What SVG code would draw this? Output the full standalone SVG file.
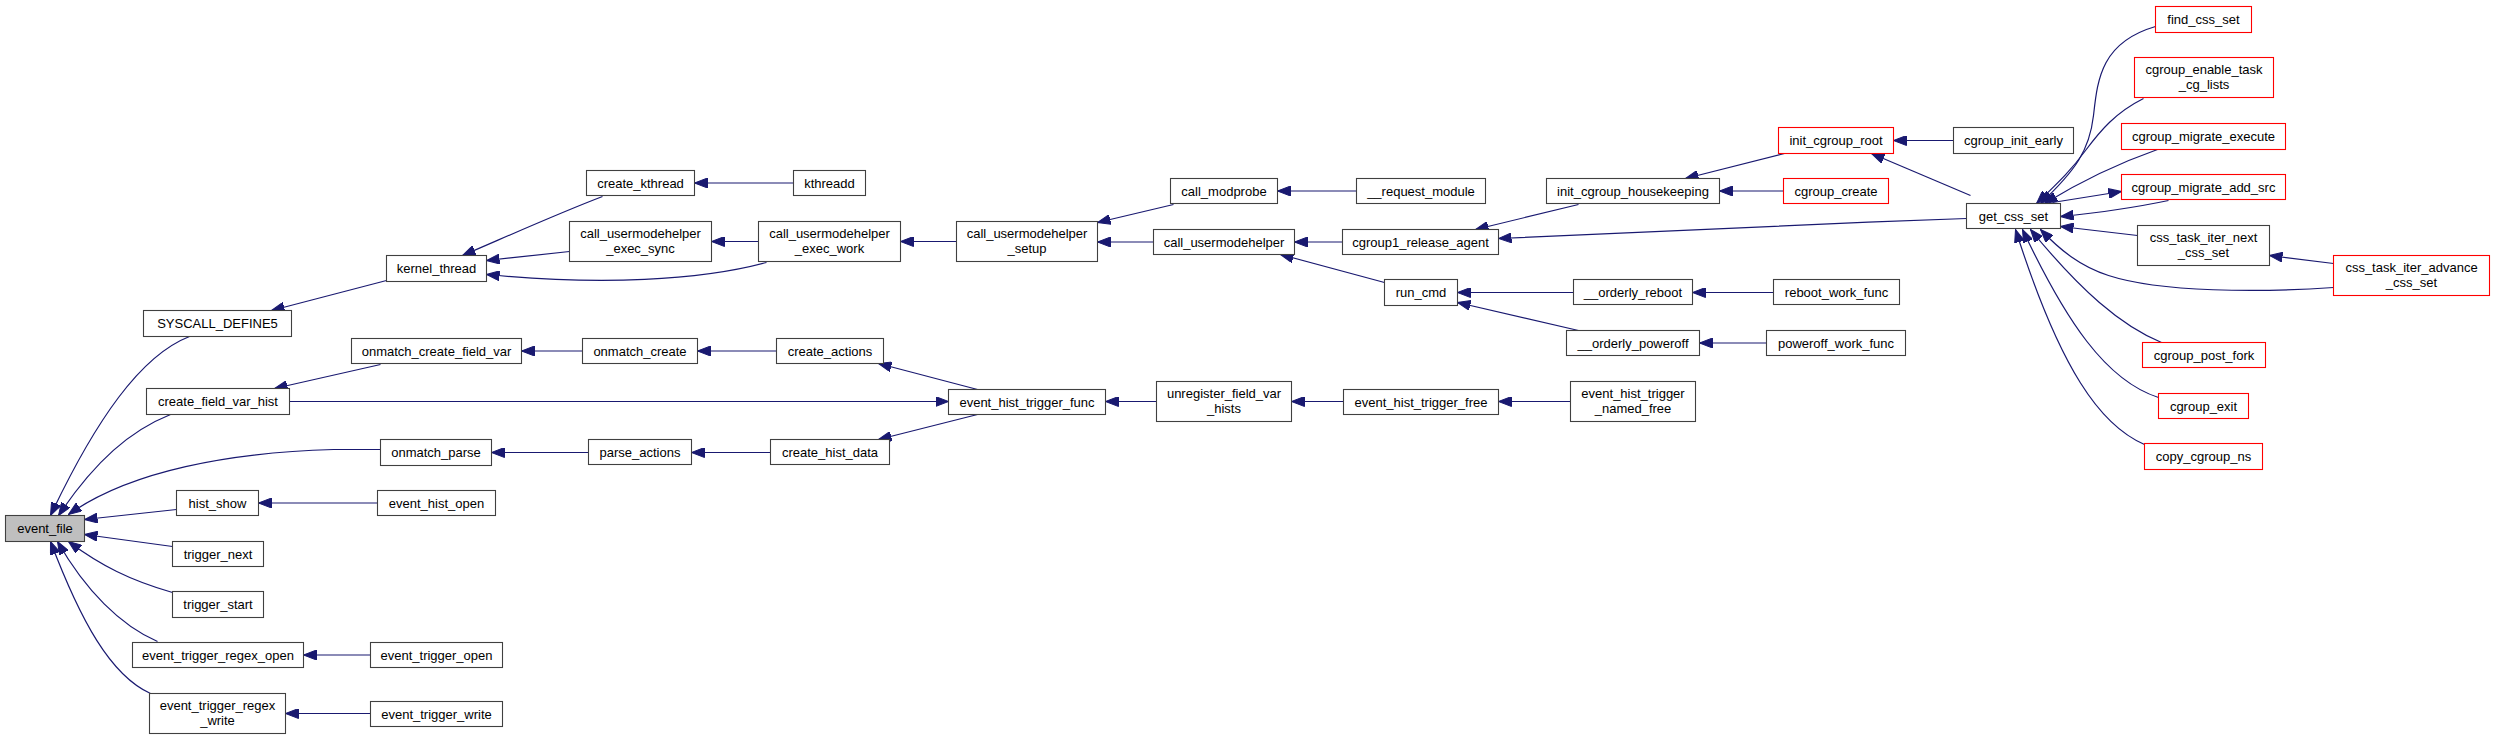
<svg xmlns="http://www.w3.org/2000/svg" width="2495" height="739" viewBox="0 0 2495 739">
<style>
.n rect{fill:#ffffff;stroke:#404040;stroke-width:1.1}
.r rect{stroke:#ff0000}
.g rect{fill:#bfbfbf}
text{font-family:"Liberation Sans",Arial,Helvetica,sans-serif;font-size:13px;text-anchor:middle;fill:#000000}
.e path{fill:none;stroke:#191970;stroke-width:1.2;marker-end:url(#a)}
</style>
<defs>
<marker id="a" viewBox="0 0 13 10" refX="13" refY="5" markerWidth="13" markerHeight="10" markerUnits="userSpaceOnUse" orient="auto">
<path d="M0,0 L13,5 L0,10 Z" fill="#191970" stroke="#191970" stroke-width="1"/>
</marker>
</defs>
<rect x="0" y="0" width="2495" height="739" fill="#ffffff"/>
<g transform="translate(0.5,0.5)">
<g id="edges" class="e">
<path d="M189,336 C140,355 95,420 50,515"/>
<path d="M170,414 C130,430 95,460 58,515"/>
<path d="M380,449 L333,449 C230,452 130,470 68,514"/>
<path d="M176,509 L84,519"/>
<path d="M172,546 L84,534"/>
<path d="M172,592 C130,580 100,565 68,541"/>
<path d="M157,641 C120,625 85,590 57,541"/>
<path d="M150,693 C110,675 80,620 50,541"/>
<path d="M377,502.5 L258,502.5"/>
<path d="M370,654.5 L303,654.5"/>
<path d="M370,713 L285,713"/>
<path d="M386,280 L271,310"/>
<path d="M380,364 L274,388"/>
<path d="M289,401 L948,401"/>
<path d="M583,350.5 L521,350.5"/>
<path d="M776,350.5 L697,350.5"/>
<path d="M588,452 L491,452"/>
<path d="M770,452 L691,452"/>
<path d="M977,389 L878,363"/>
<path d="M977,414 L878,439"/>
<path d="M602,196 C560,212 520,230 462,255"/>
<path d="M569,251 L486,260"/>
<path d="M766,262 C700,280 600,285 486,274"/>
<path d="M793,182.5 L694,182.5"/>
<path d="M758,241 L711,241"/>
<path d="M956,241 L900,241"/>
<path d="M1173,204 L1097,222"/>
<path d="M1153,241.5 L1097,241.5"/>
<path d="M1356,190.5 L1277,190.5"/>
<path d="M1342,241.5 L1294,241.5"/>
<path d="M1384,282 L1280,254"/>
<path d="M1578,204 L1475,229"/>
<path d="M1966,218 C1800,224 1620,232 1498,238"/>
<path d="M1784,153 L1685,178"/>
<path d="M1783,190.5 L1719,190.5"/>
<path d="M1953,140 L1893,140"/>
<path d="M1970,195 L1871,153"/>
<path d="M1573,292 L1457,292"/>
<path d="M1578,330 L1457,302"/>
<path d="M1773,292 L1692,292"/>
<path d="M1766,342.5 L1699,342.5"/>
<path d="M1570,401 L1498,401"/>
<path d="M1343,401 L1291,401"/>
<path d="M1156,401 L1105,401"/>
<path d="M2155,26 C2100,42 2097,80 2093,115 C2089,150 2075,170 2040,203"/>
<path d="M2143,98 C2115,112 2100,130 2085,150 C2072,168 2060,180 2036,203"/>
<path d="M2157,149 C2120,162 2085,178 2044,203"/>
<path d="M2052,202 L2121,191"/>
<path d="M2168,200 C2130,208 2100,212 2060,216"/>
<path d="M2137,235 L2060,226"/>
<path d="M2333,263 L2269,255"/>
<path d="M2333,287 C2260,292 2160,292 2108,275 C2080,266 2060,250 2040,229"/>
<path d="M2161,342 C2120,325 2080,290 2030,229"/>
<path d="M2158,397 C2105,380 2065,320 2022,229"/>
<path d="M2144,444 C2100,425 2060,370 2015,229"/>
</g>
<g id="event_file" class="n g"><rect x="5" y="515" width="79" height="26"/><text x="44.5" y="532.5">event_file</text></g>
<g id="SYSCALL_DEFINE5" class="n"><rect x="143" y="310" width="148" height="26"/><text x="217" y="327.5">SYSCALL_DEFINE5</text></g>
<g id="create_field_var_hist" class="n"><rect x="146" y="388" width="143" height="26"/><text x="217.5" y="405.5">create_field_var_hist</text></g>
<g id="onmatch_parse" class="n"><rect x="380" y="439" width="111" height="26"/><text x="435.5" y="456.5">onmatch_parse</text></g>
<g id="hist_show" class="n"><rect x="176" y="490" width="82" height="25"/><text x="217" y="507">hist_show</text></g>
<g id="event_hist_open" class="n"><rect x="377" y="490" width="118" height="25"/><text x="436" y="507">event_hist_open</text></g>
<g id="trigger_next" class="n"><rect x="172" y="541" width="91" height="25"/><text x="217.5" y="558">trigger_next</text></g>
<g id="trigger_start" class="n"><rect x="172" y="591" width="91" height="26"/><text x="217.5" y="608.5">trigger_start</text></g>
<g id="event_trigger_regex_open" class="n"><rect x="132" y="642" width="171" height="25"/><text x="217.5" y="659">event_trigger_regex_open</text></g>
<g id="event_trigger_open" class="n"><rect x="370" y="642" width="132" height="25"/><text x="436" y="659">event_trigger_open</text></g>
<g id="event_trigger_regex_write" class="n"><rect x="149" y="693" width="136" height="40"/><text x="217" y="709.5">event_trigger_regex</text><text x="217" y="724.5">_write</text></g>
<g id="event_trigger_write" class="n"><rect x="370" y="701" width="132" height="25"/><text x="436" y="718">event_trigger_write</text></g>
<g id="kernel_thread" class="n"><rect x="386" y="255" width="100" height="26"/><text x="436" y="272.5">kernel_thread</text></g>
<g id="onmatch_create_field_var" class="n"><rect x="351" y="338" width="170" height="25"/><text x="436" y="355">onmatch_create_field_var</text></g>
<g id="create_kthread" class="n"><rect x="586" y="170" width="108" height="25"/><text x="640" y="187">create_kthread</text></g>
<g id="kthreadd" class="n"><rect x="793" y="170" width="72" height="25"/><text x="829" y="187">kthreadd</text></g>
<g id="call_usermodehelper_exec_sync" class="n"><rect x="569" y="221" width="142" height="40"/><text x="640" y="237.5">call_usermodehelper</text><text x="640" y="252.5">_exec_sync</text></g>
<g id="call_usermodehelper_exec_work" class="n"><rect x="758" y="221" width="142" height="40"/><text x="829" y="237.5">call_usermodehelper</text><text x="829" y="252.5">_exec_work</text></g>
<g id="call_usermodehelper_setup" class="n"><rect x="956" y="221" width="141" height="40"/><text x="1026.5" y="237.5">call_usermodehelper</text><text x="1026.5" y="252.5">_setup</text></g>
<g id="onmatch_create" class="n"><rect x="582" y="338" width="115" height="25"/><text x="639.5" y="355">onmatch_create</text></g>
<g id="create_actions" class="n"><rect x="776" y="338" width="107" height="25"/><text x="829.5" y="355">create_actions</text></g>
<g id="event_hist_trigger_func" class="n"><rect x="948" y="389" width="157" height="25"/><text x="1026.5" y="406">event_hist_trigger_func</text></g>
<g id="parse_actions" class="n"><rect x="588" y="439" width="103" height="25"/><text x="639.5" y="456">parse_actions</text></g>
<g id="create_hist_data" class="n"><rect x="770" y="439" width="119" height="25"/><text x="829.5" y="456">create_hist_data</text></g>
<g id="call_modprobe" class="n"><rect x="1170" y="178" width="107" height="25"/><text x="1223.5" y="195">call_modprobe</text></g>
<g id="__request_module" class="n"><rect x="1356" y="178" width="129" height="25"/><text x="1420.5" y="195">__request_module</text></g>
<g id="call_usermodehelper" class="n"><rect x="1153" y="229" width="141" height="25"/><text x="1223.5" y="246">call_usermodehelper</text></g>
<g id="cgroup1_release_agent" class="n"><rect x="1342" y="229" width="156" height="25"/><text x="1420" y="246">cgroup1_release_agent</text></g>
<g id="run_cmd" class="n"><rect x="1384" y="279" width="73" height="26"/><text x="1420.5" y="296.5">run_cmd</text></g>
<g id="unregister_field_var_hists" class="n"><rect x="1156" y="381" width="135" height="40"/><text x="1223.5" y="397.5">unregister_field_var</text><text x="1223.5" y="412.5">_hists</text></g>
<g id="event_hist_trigger_free" class="n"><rect x="1343" y="389" width="155" height="25"/><text x="1420.5" y="406">event_hist_trigger_free</text></g>
<g id="init_cgroup_housekeeping" class="n"><rect x="1546" y="178" width="173" height="25"/><text x="1632.5" y="195">init_cgroup_housekeeping</text></g>
<g id="init_cgroup_root" class="n r"><rect x="1778" y="127" width="115" height="26"/><text x="1835.5" y="144.5">init_cgroup_root</text></g>
<g id="cgroup_create" class="n r"><rect x="1783" y="178" width="105" height="25"/><text x="1835.5" y="195">cgroup_create</text></g>
<g id="cgroup_init_early" class="n"><rect x="1953" y="127" width="120" height="26"/><text x="2013" y="144.5">cgroup_init_early</text></g>
<g id="__orderly_reboot" class="n"><rect x="1573" y="279" width="119" height="25"/><text x="1632.5" y="296">__orderly_reboot</text></g>
<g id="reboot_work_func" class="n"><rect x="1773" y="279" width="126" height="25"/><text x="1836" y="296">reboot_work_func</text></g>
<g id="__orderly_poweroff" class="n"><rect x="1566" y="330" width="133" height="25"/><text x="1632.5" y="347">__orderly_poweroff</text></g>
<g id="poweroff_work_func" class="n"><rect x="1766" y="330" width="139" height="25"/><text x="1835.5" y="347">poweroff_work_func</text></g>
<g id="event_hist_trigger_named_free" class="n"><rect x="1570" y="381" width="125" height="40"/><text x="1632.5" y="397.5">event_hist_trigger</text><text x="1632.5" y="412.5">_named_free</text></g>
<g id="get_css_set" class="n"><rect x="1966" y="203" width="94" height="25"/><text x="2013" y="220">get_css_set</text></g>
<g id="find_css_set" class="n r"><rect x="2155" y="6" width="96" height="26"/><text x="2203" y="23.5">find_css_set</text></g>
<g id="cgroup_enable_task_cg_lists" class="n r"><rect x="2134" y="57" width="139" height="40"/><text x="2203.5" y="73.5">cgroup_enable_task</text><text x="2203.5" y="88.5">_cg_lists</text></g>
<g id="cgroup_migrate_execute" class="n r"><rect x="2121" y="123" width="164" height="26"/><text x="2203" y="140.5">cgroup_migrate_execute</text></g>
<g id="cgroup_migrate_add_src" class="n r"><rect x="2121" y="174" width="164" height="25"/><text x="2203" y="191">cgroup_migrate_add_src</text></g>
<g id="css_task_iter_next_css_set" class="n"><rect x="2137" y="225" width="132" height="40"/><text x="2203" y="241.5">css_task_iter_next</text><text x="2203" y="256.5">_css_set</text></g>
<g id="css_task_iter_advance_css_set" class="n r"><rect x="2333" y="255" width="156" height="40"/><text x="2411" y="271.5">css_task_iter_advance</text><text x="2411" y="286.5">_css_set</text></g>
<g id="cgroup_post_fork" class="n r"><rect x="2142" y="342" width="123" height="25"/><text x="2203.5" y="359">cgroup_post_fork</text></g>
<g id="cgroup_exit" class="n r"><rect x="2158" y="393" width="90" height="25"/><text x="2203" y="410">cgroup_exit</text></g>
<g id="copy_cgroup_ns" class="n r"><rect x="2144" y="443" width="118" height="26"/><text x="2203" y="460.5">copy_cgroup_ns</text></g>
</g>
</svg>
